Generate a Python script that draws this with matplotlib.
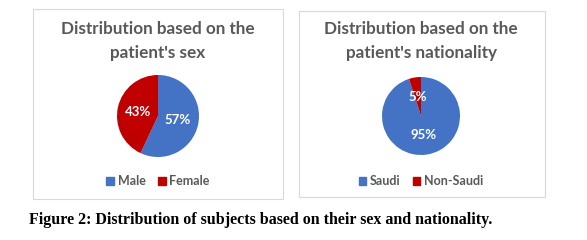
import matplotlib
matplotlib.use("Agg")
import matplotlib.pyplot as plt
from matplotlib.patches import Rectangle

sex_labels = ["Male", "Female"]
sex_values = [57, 43]
nat_labels = ["Saudi", "Non-Saudi"]
nat_values = [95, 5]
colors = ["#4472C4", "#C00000"]

W, H = 587, 240
fig = plt.figure(figsize=(W / 100, H / 100), dpi=100)
fig.patch.set_facecolor("white")

def px_box(x0, y0, x1, y1):
    # pixel box (top-left origin) -> figure rect
    return [x0 / W, 1 - y1 / H, (x1 - x0) / W, (y1 - y0) / H]

def panel(box, center, r, title, labels, values, legend_y):
    fig.patches.append(Rectangle((box[0] / W, 1 - box[3] / H),
                                 (box[2] - box[0]) / W, (box[3] - box[1]) / H,
                                 transform=fig.transFigure, fill=False,
                                 edgecolor="#d9d9d9", linewidth=0.8))
    cx, cy = center
    ax = fig.add_axes(px_box(cx - r, cy - r, cx + r, cy + r))
    wedges, _, autotexts = ax.pie(values, colors=colors, startangle=90,
                                  counterclock=False, autopct="%d%%",
                                  pctdistance=0.5, radius=1,
                                  wedgeprops=dict(linewidth=0))
    for t in autotexts:
        t.set_color("white")
        t.set_fontsize(9.5)
        t.set_fontweight("bold")
        t.set_fontfamily("Lato")
    ax.set_xlim(-1, 1)
    ax.set_ylim(-1, 1)
    ax.set_aspect("equal")
    ax.axis("off")
    fig.text(cx / W, 1 - 41 / H, title, ha="center", va="center",
             fontsize=12.3, fontweight="bold", color="#595959",
             family="Lato", linespacing=1.55)
    handles = [Rectangle((0, 0), 1, 1, color=c) for c in colors]
    fig.legend(handles, labels, loc="center", ncol=2, frameon=False,
               bbox_to_anchor=(cx / W, 1 - legend_y / H),
               prop=dict(family="Lato", size=9, weight="bold"),
               labelcolor="#595959", handlelength=0.6, handleheight=0.6,
               handletextpad=0.3, columnspacing=1.0)

panel((33, 9, 283, 199), (158, 116), 41,
      "Distribution based on the\npatient's sex", sex_labels, sex_values, 181)
panel((299, 11, 545, 197), (421, 116), 39,
      "Distribution based on the\npatient's nationality", nat_labels, nat_values, 181)

fig.text(29 / W, 1 - 220 / H,
         "Figure 2: Distribution of subjects based on their sex and nationality.",
         ha="left", va="center", fontsize=11.5, fontweight="bold",
         family="Liberation Serif", color="black")

fig.savefig("out.png", dpi=100)
